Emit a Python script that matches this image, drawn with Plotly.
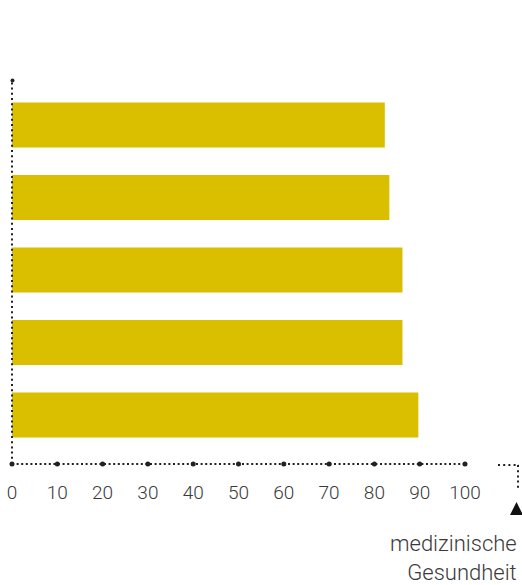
import plotly.graph_objects as go

# ---- data ----
categories = ["1", "2", "3", "4", "5"]          # top to bottom
values = [82.3, 83.3, 86.2, 86.2, 89.7]
tick_values = [0, 10, 20, 30, 40, 50, 60, 70, 80, 90, 100]
tick_labels = [str(v) for v in tick_values]
axis_label = "medizinische<br>Gesundheit"

BAR_COLOR = "#DABE00"
DARK = "#222222"
TEXT = "#3a3a3a"

W, H = 522, 585
L = 12
T = 81
R = W - 465
B = H - 464

fig = go.Figure()
fig.add_trace(go.Bar(
    y=categories, x=values, orientation="h",
    marker=dict(color=BAR_COLOR, line=dict(width=0)),
    hoverinfo="x",
))
# tick dots on the x-axis
fig.add_trace(go.Scatter(
    x=tick_values, y=[categories[-1]] * len(tick_values),
    mode="markers", marker=dict(color=DARK, size=5),
    cliponaxis=False, hoverinfo="skip", yaxis="y2",
))

pw = W - L - R
ph = H - T - B

def px_x(p):
    return (p - L) / pw

def px_y(p):
    return (H - B - p) / ph

shapes = [
    # x-axis dotted line
    dict(type="line", xref="paper", yref="paper", x0=0, x1=1, y0=0, y1=0,
         line=dict(color=DARK, width=2, dash="2px,2.6px")),
    # y-axis dotted line
    dict(type="line", xref="paper", yref="paper", x0=0, x1=0, y0=0, y1=1,
         line=dict(color=DARK, width=2, dash="2px,3.2px")),
    # top dot of y-axis
    dict(type="circle", xref="paper", yref="paper",
         x0=px_x(10.5), x1=px_x(14.5), y0=px_y(82.5), y1=px_y(78.5),
         fillcolor=DARK, line=dict(width=0)),
    # extension right of axis
    dict(type="line", xref="paper", yref="paper",
         x0=px_x(498), x1=px_x(519), y0=px_y(465), y1=px_y(465),
         line=dict(color=DARK, width=2, dash="2px,3.2px")),
    dict(type="line", xref="paper", yref="paper",
         x0=px_x(518), x1=px_x(518), y0=px_y(465), y1=px_y(488),
         line=dict(color=DARK, width=2, dash="2px,3.2px")),
    # triangle
    dict(type="path", xref="paper", yref="paper",
         path=f"M {px_x(510)} {px_y(515)} L {px_x(516.5)} {px_y(502)} L {px_x(523)} {px_y(515)} Z",
         fillcolor="#111111", line=dict(width=0)),
]

fig.update_layout(
    width=W, height=H,
    margin=dict(l=L, r=R, t=T, b=B, pad=0, autoexpand=False),
    paper_bgcolor="white", plot_bgcolor="white",
    showlegend=False,
    bargap=0.38,
    shapes=shapes,
    xaxis=dict(
        range=[0, 100], tickvals=tick_values, ticktext=tick_labels,
        showgrid=False, zeroline=False, showline=False, automargin=False,
        ticks="outside", ticklen=11, tickcolor="rgba(0,0,0,0)",
        ticklabeloverflow="allow",
        tickfont=dict(family="Roboto", size=19, color=TEXT, weight=300),
    ),
    yaxis=dict(
        type="category", categoryarray=categories,
        range=[4.677, -0.606], automargin=False,
        showticklabels=False, showgrid=False, zeroline=False, showline=False,
    ),
    yaxis2=dict(
        type="category", categoryarray=categories, overlaying="y",
        range=[4.0, 4.0 - 5.283], visible=False, automargin=False,
    ),
    annotations=[dict(
        text=axis_label, xref="paper", yref="paper",
        x=px_x(519), y=px_y(529), xanchor="right", yanchor="top",
        align="right", showarrow=False,
        font=dict(family="Roboto", size=22, color=TEXT, weight=300),
    )],
)

fig.write_html(
    "out.html",
    config={"displayModeBar": False},
    post_script="document.body.style.margin='0';document.body.style.overflow='hidden';",
)
